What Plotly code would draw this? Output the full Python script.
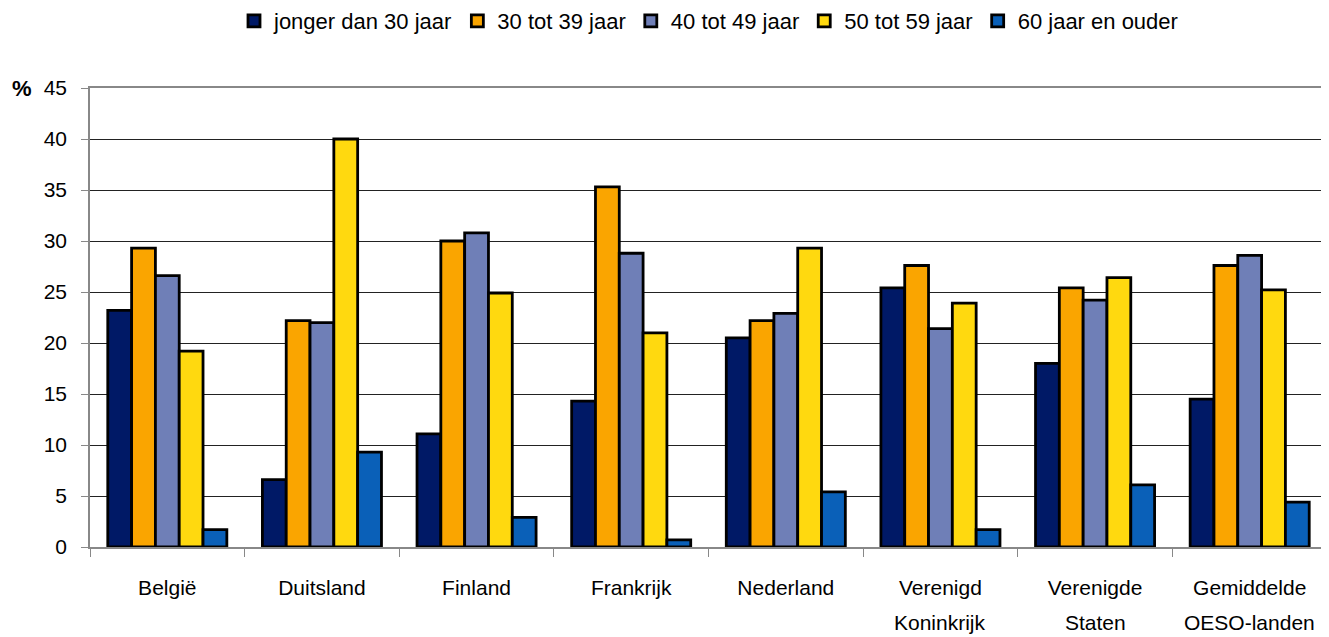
import plotly.graph_objects as go

categories = ["België", "Duitsland", "Finland", "Frankrijk", "Nederland",
              "Verenigd Koninkrijk", "Verenigde Staten", "Gemiddelde OESO-landen"]
label_line1 = ["België", "Duitsland", "Finland", "Frankrijk", "Nederland",
               "Verenigd", "Verenigde", "Gemiddelde"]
label_line2 = ["", "", "", "", "", "Koninkrijk", "Staten", "OESO-landen"]
series_names = ["jonger dan 30 jaar", "30 tot 39 jaar", "40 tot 49 jaar",
                "50 tot 59 jaar", "60 jaar en ouder"]
v_under30 = [23.2, 6.6, 11.1, 14.3, 20.5, 25.4, 18.0, 14.5]
v_30_39 = [29.3, 22.2, 30.0, 35.3, 22.2, 27.6, 25.4, 27.6]
v_40_49 = [26.6, 22.0, 30.8, 28.8, 22.9, 21.4, 24.2, 28.6]
v_50_59 = [19.2, 40.0, 24.9, 21.0, 29.3, 23.9, 26.4, 25.2]
v_60plus = [1.7, 9.3, 2.9, 0.7, 5.4, 1.7, 6.1, 4.4]
series_values = [v_under30, v_30_39, v_40_49, v_50_59, v_60plus]
colors = ["#001966", "#FAA500", "#6F7FB7", "#FFD90F", "#0A60B8"]
y_ticks = [0, 5, 10, 15, 20, 25, 30, 35, 40, 45]

FONT = "Liberation Sans, Arial, sans-serif"
W, H = 1329, 637

fig = go.Figure()
for name, vals, col in zip(series_names, series_values, colors):
    fig.add_trace(go.Bar(
        x=categories, y=vals, name=name,
        marker=dict(color=col, line=dict(color="black", width=2.8)),
    ))

fig.update_layout(
    width=W, height=H,
    barmode="group", bargap=0.23, bargroupgap=0,
    plot_bgcolor="white", paper_bgcolor="white",
    margin=dict(l=82, r=8, t=80, b=98),
    font=dict(family=FONT, size=21, color="black"),
    legend=dict(orientation="h", x=0.5, xanchor="center", y=1 - 13 / H, yanchor="middle",
                yref="container", font=dict(size=22), traceorder="normal",
                itemwidth=30, tracegroupgap=0),
    showlegend=True,
)
fig.update_xaxes(
    showline=True, linecolor="#888888", linewidth=1.5, mirror=True,
    ticks="outside", tickson="boundaries", ticklen=8, tickcolor="#888888",
    showgrid=False, ticklabelstandoff=21,
    tickmode="array", tickvals=categories, ticktext=label_line1,
)
fig.update_yaxes(
    range=[0, 45], tickvals=y_ticks, showline=True, linecolor="#888888",
    linewidth=1.5, mirror=True, ticks="outside", ticklen=7, tickcolor="#888888",
    showgrid=True, gridcolor="#222222", gridwidth=1, zeroline=False,
    ticklabelstandoff=10,
)
for cat, l2 in zip(categories, label_line2):
    if l2:
        fig.add_annotation(text=l2, x=cat, xref="x", yref="paper", y=0,
                           yshift=-75, yanchor="middle", showarrow=False,
                           font=dict(size=21, family=FONT))
fig.add_annotation(text="<b>%</b>", xref="paper", yref="paper", x=-0.045, y=1.0,
                   xanchor="right", yanchor="middle", showarrow=False,
                   font=dict(size=22, family=FONT))

fig.write_html("out.html")
